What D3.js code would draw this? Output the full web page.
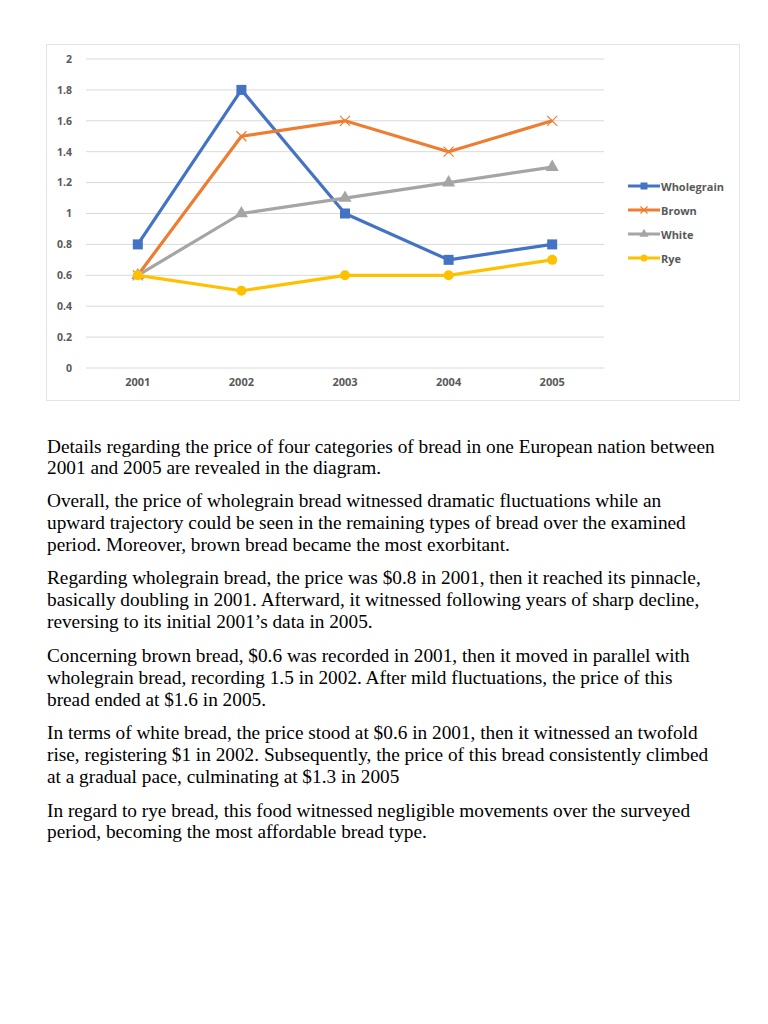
<!DOCTYPE html>
<html>
<head>
<meta charset="utf-8">
<script src="https://cdnjs.cloudflare.com/ajax/libs/d3/7.8.5/d3.min.js"></script>
<style>
  body { margin: 0; background: #fff; }
</style>
</head>
<body>
<svg id="page" width="768" height="1024"></svg>
<script>
"use strict";

const years = ["2001", "2002", "2003", "2004", "2005"];
const wholegrain = [0.8, 1.8, 1.0, 0.7, 0.8];
const brown = [0.6, 1.5, 1.6, 1.4, 1.6];
const white = [0.6, 1.0, 1.1, 1.2, 1.3];
const rye = [0.6, 0.5, 0.6, 0.6, 0.7];
const yTicks = [0, 0.2, 0.4, 0.6, 0.8, 1, 1.2, 1.4, 1.6, 1.8, 2];

const paragraphs = [
    ["Details regarding the price of four categories of bread in one European nation between",
     "2001 and 2005 are revealed in the diagram."],
    ["Overall, the price of wholegrain bread witnessed dramatic fluctuations while an",
     "upward trajectory could be seen in the remaining types of bread over the examined",
     "period. Moreover, brown bread became the most exorbitant."],
    ["Regarding wholegrain bread, the price was $0.8 in 2001, then it reached its pinnacle,",
     "basically doubling in 2001. Afterward, it witnessed following years of sharp decline,",
     "reversing to its initial 2001\u2019s data in 2005."],
    ["Concerning brown bread, $0.6 was recorded in 2001, then it moved in parallel with",
     "wholegrain bread, recording 1.5 in 2002. After mild fluctuations, the price of this",
     "bread ended at $1.6 in 2005."],
    ["In terms of white bread, the price stood at $0.6 in 2001, then it witnessed an twofold",
     "rise, registering $1 in 2002. Subsequently, the price of this bread consistently climbed",
     "at a gradual pace, culminating at $1.3 in 2005"],
    ["In regard to rye bread, this food witnessed negligible movements over the surveyed",
     "period, becoming the most affordable bread type."]
];

const series = [
    { name: "Wholegrain", values: wholegrain, color: "#4472C4", marker: "square" },
    { name: "Brown", values: brown, color: "#ED7D31", marker: "cross" },
    { name: "White", values: white, color: "#A5A5A5", marker: "triangle" },
    { name: "Rye", values: rye, color: "#FFC000", marker: "circle" }
];

let svg = d3.select("#page");

// chart frame
svg.append("rect")
    .attr("x", 46.5).attr("y", 44.5)
    .attr("width", 693).attr("height", 356)
    .attr("fill", "#fff")
    .attr("stroke", "#e3e3e3");

let x = d3.scaleBand().domain(years).range([86, 604]);
let y = d3.scaleLinear().domain([0, 2]).range([368, 59]);

// gridlines
svg.append("g")
    .selectAll("line")
    .data(yTicks)
    .enter()
    .append("line")
    .attr("x1", 86).attr("x2", 604)
    .attr("y1", d => y(d)).attr("y2", d => y(d))
    .attr("stroke", "#d9d9d9")
    .attr("stroke-width", 1);

// y axis labels
let yAxis = d3.axisLeft(y).tickValues(yTicks).tickSize(0).tickPadding(14)
    .tickFormat(d => String(d));
svg.append("g")
    .attr("transform", "translate(86,0)")
    .call(yAxis)
    .call(g => g.select(".domain").remove())
    .selectAll("text")
    .style("font-family", "'Open Sans', sans-serif")
    .style("font-size", "10.5px")
    .style("font-weight", "bold")
    .style("fill", "#595959");

// x axis labels
let xAxis = d3.axisBottom(x).tickSize(0).tickPadding(10);
svg.append("g")
    .attr("transform", "translate(0,368)")
    .call(xAxis)
    .call(g => g.select(".domain").remove())
    .selectAll("text")
    .style("font-family", "'Open Sans', sans-serif")
    .style("font-size", "11px")
    .style("font-weight", "bold")
    .style("fill", "#595959");

let cx = (d, i) => x(years[i]) + x.bandwidth() / 2;
let line = d3.line().x(cx).y(d => y(d));

function drawMarker(g, s, px, py, size) {
    if (s.marker === "square") {
        g.append("rect")
            .attr("x", px - size / 2).attr("y", py - size / 2)
            .attr("width", size).attr("height", size)
            .attr("fill", s.color);
    } else if (s.marker === "cross") {
        let h = size / 2;
        g.append("path")
            .attr("d", `M${px - h},${py - h}L${px + h},${py + h}M${px - h},${py + h}L${px + h},${py - h}`)
            .attr("stroke", s.color).attr("stroke-width", 1.2).attr("fill", "none");
    } else if (s.marker === "triangle") {
        g.append("path")
            .attr("d", d3.symbol().type(d3.symbolTriangle).size(size * size * 0.75)())
            .attr("transform", `translate(${px},${py})`)
            .attr("fill", s.color);
    } else {
        g.append("circle")
            .attr("cx", px).attr("cy", py).attr("r", size / 2)
            .attr("fill", s.color);
    }
}

// lines and markers
series.forEach(s => {
    let g = svg.append("g");
    g.append("path")
        .datum(s.values)
        .attr("d", line)
        .attr("fill", "none")
        .attr("stroke", s.color)
        .attr("stroke-width", 3.2)
        .attr("stroke-linejoin", "round");
    s.values.forEach((v, i) => drawMarker(g, s, cx(v, i), y(v), 10));
});

// legend
let legend = svg.append("g");
series.forEach((s, i) => {
    let ly = 186 + i * 24;
    let g = legend.append("g");
    g.append("line")
        .attr("x1", 628).attr("x2", 660)
        .attr("y1", ly).attr("y2", ly)
        .attr("stroke", s.color).attr("stroke-width", 3);
    drawMarker(g, s, 644, ly, 7);
    g.append("text")
        .attr("x", 661).attr("y", ly)
        .attr("dominant-baseline", "central")
        .style("font-family", "'Open Sans', sans-serif")
        .style("font-size", "11px")
        .style("font-weight", "bold")
        .style("fill", "#595959")
        .text(s.name);
});

// body text
let textTop = [452.5, 507, 584, 662, 739, 816.5];
let body = svg.append("g")
    .style("font-family", "'Liberation Serif', 'Times New Roman', serif")
    .style("font-size", "19.3px")
    .style("fill", "#000");
paragraphs.forEach((p, pi) => {
    p.forEach((ln, li) => {
        body.append("text")
            .attr("x", 47)
            .attr("y", textTop[pi] + li * 21.8)
            .text(ln);
    });
});
</script>
</body>
</html>
